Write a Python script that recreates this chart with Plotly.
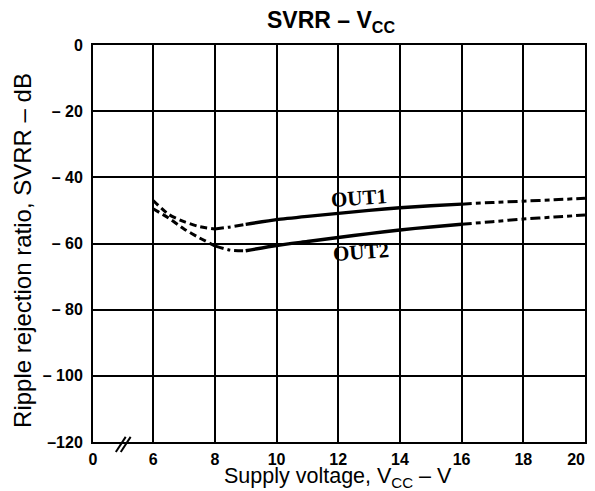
import plotly.graph_objects as go

# ---- data ----
vcc = [6.0, 6.5, 7.0, 7.5, 8.0, 8.5, 9.0, 10, 11, 12, 13, 14, 15, 16, 17, 18, 19, 20]
out1 = [-47.0, -51.2, -53.4, -54.9, -55.6, -55.0, -54.2, -52.8, -51.8, -50.9, -50.0,
        -49.2, -48.6, -48.1, -47.6, -47.2, -46.8, -46.3]
out2 = [-49.5, -52.3, -55.6, -58.3, -60.7, -62.0, -62.2, -60.6, -59.4, -58.2, -57.0,
        -55.9, -55.0, -54.2, -53.4, -52.6, -52.0, -51.4]
# segment boundaries (indices into vcc) and their dash styles
segments = [(0, 4, "7px,4px"), (4, 6, "9px,4px,3px,4px"), (6, 13, "solid"), (13, 17, "10px,4px,5px,4px")]

x_origin = 4.05  # position of the broken-axis "0"
x_tickvals = [x_origin, 6, 8, 10, 12, 14, 16, 18, 20]
x_ticktext = ["0", "6", "8", "10", "12", "14", "16", "18", "20" + "\u00a0" * 4]
y_tickvals = [0, -20, -40, -60, -80, -100, -120]
y_ticktext = ["0", "– 20", "– 40", "– 60", "– 80", "– 100", "–120"]

fig = go.Figure()
for ys in (out1, out2):
    for i0, i1, dash in segments:
        fig.add_trace(go.Scatter(
            x=vcc[i0:i1 + 1], y=ys[i0:i1 + 1], mode="lines",
            line=dict(color="black", width=3.4 if dash == "solid" else 3.0,
                      dash=dash, shape="spline", smoothing=0.6),
            showlegend=False, hoverinfo="skip"))

fig.add_annotation(x=12.67, y=-46.2, text="<b>OUT1</b>", showarrow=False, textangle=-4,
                   font=dict(family="Liberation Serif", size=21, color="black"))
fig.add_annotation(x=12.73, y=-62.6, text="<b>OUT2</b>", showarrow=False, textangle=-4,
                   font=dict(family="Liberation Serif", size=21, color="black"))

# axis break mark
for dx in (0.0, 0.16):
    fig.add_shape(type="line", xref="x", yref="paper",
                  x0=4.79 + dx, x1=5.11 + dx, y0=-0.025, y1=0.013,
                  line=dict(color="black", width=2))

tickfont = dict(family="Liberation Sans", size=16, color="black", weight="bold")
fig.update_xaxes(range=[x_origin, 20], tickvals=x_tickvals, ticktext=x_ticktext,
                 showgrid=True, gridcolor="black", gridwidth=1.5,
                 showline=True, linecolor="black", linewidth=2, mirror=True,
                 zeroline=False, ticks="", tickfont=tickfont, ticklabelstandoff=2,
                 ticklabeloverflow="allow")
fig.update_yaxes(range=[-120, 0], tickvals=y_tickvals, ticktext=y_ticktext,
                 showgrid=True, gridcolor="black", gridwidth=1.5,
                 showline=True, linecolor="black", linewidth=2, mirror=True,
                 zeroline=False, ticks="", tickfont=tickfont, ticklabelstandoff=5)

fig.add_annotation(xref="paper", yref="paper", x=0.484, y=1.06, xanchor="center", yanchor="middle",
                   text="<b>SVRR – V<sub>CC</sub></b>",
                   showarrow=False, font=dict(family="Liberation Sans", size=23, color="black"))
fig.add_annotation(xref="paper", yref="paper", x=0.498, y=-0.09, xanchor="center", yanchor="middle",
                   text="Supply voltage, V<sub>CC</sub> – V",
                   showarrow=False, font=dict(family="Liberation Sans", size=21.5, color="black"))
fig.add_annotation(xref="paper", yref="paper", x=-0.143, y=0.483, xanchor="center", yanchor="middle",
                   text="Ripple rejection ratio, SVRR – dB",
                   showarrow=False, textangle=-90, font=dict(family="Liberation Sans", size=24, color="black"))

fig.update_layout(width=587, height=483, margin=dict(l=84.5, r=10, t=37, b=49, autoexpand=False),
                  plot_bgcolor="white", paper_bgcolor="white")
fig.write_html("out.html")
